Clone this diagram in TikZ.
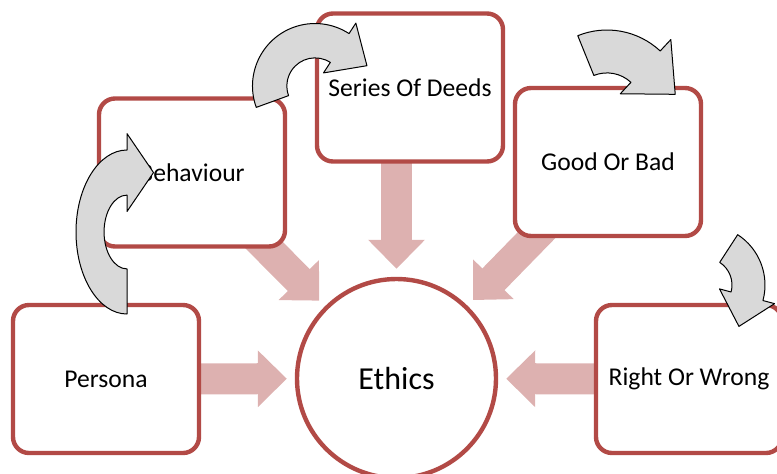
\documentclass[tikz,border=0pt]{standalone}
\usepackage{fontspec}
\setmainfont{Carlito}
\usetikzlibrary{arrows.meta, calc, backgrounds}

\definecolor{boxred}{RGB}{178,74,70}
\definecolor{flowpink}{RGB}{221,177,176}
\definecolor{bentgray}{RGB}{217,217,217}

% curved block arrow: #1 placement, #2 tail angle, #3 head angle
\newcommand{\bentarrow}[3]{%
  \begin{scope}[#1]
    \filldraw[bent] (#2:1) arc[start angle=#2, end angle=#3, radius=1]
      -- (#3:1.2) -- ($(#3:0.725)+({#3-90}:0.52)$) -- (#3:0.25) -- (#3:0.45)
      arc[start angle=#3, end angle=#2, radius=0.45] -- cycle;
  \end{scope}}

\begin{document}
\begin{tikzpicture}[x=0.5pt, y=0.5pt,
  box/.style={draw=boxred, line width=2.2pt, rounded corners=8pt, fill=white, minimum width=93pt, minimum height=74pt, align=center, font=\fontsize{12.8}{15}\selectfont},
  hub/.style={circle, draw=boxred, line width=2.2pt, fill=white, minimum size=99.5pt, inner sep=0pt, font=\fontsize{16}{19}\selectfont},
  flow/.style={draw=flowpink, line width=15.5pt, -{Triangle[length=14.5pt, width=27.5pt]}, shorten >=4pt},
  bent/.style={fill=bentgray, draw=black, line width=0.5pt, line join=round}
]
\useasboundingbox (0,0) rectangle (777,-473);

\node[box] (persona) at (106,-379) {Persona};
\node[box] (behaviour) at (192,-172.5) {Behaviour};
\node[box] (deeds) at (410,-87.5) {Series Of Deeds};
\node[box] (goodbad) at (608,-162) {Good Or Bad};
\node[box] (rightwrong) at (689,-379) {Right Or Wrong};
\node[hub] (ethics) at (396.5,-378.5) {Ethics};

% everything flows into the hub
\begin{scope}[on background layer]
  \draw[flow] (persona.center) -- (ethics);
  \draw[flow] (behaviour.center) -- (ethics);
  \draw[flow] (ethics |- deeds) -- (ethics);
  \draw[flow] (goodbad.center) -- (ethics);
  \draw[flow] (rightwrong.center) -- (ethics);
\end{scope}

% the chain of steps
\bentarrow{shift={(127,-232)}, xscale=51, yscale=82}{270}{90}
\bentarrow{shift={(315,-86)}, scale=62.5}{200}{57}
\bentarrow{shift={(607,-108)}, scale=78}{112}{47}
\bentarrow{shift={(705,-285)}, scale=60}{57}{-15}
\end{tikzpicture}
\end{document}
